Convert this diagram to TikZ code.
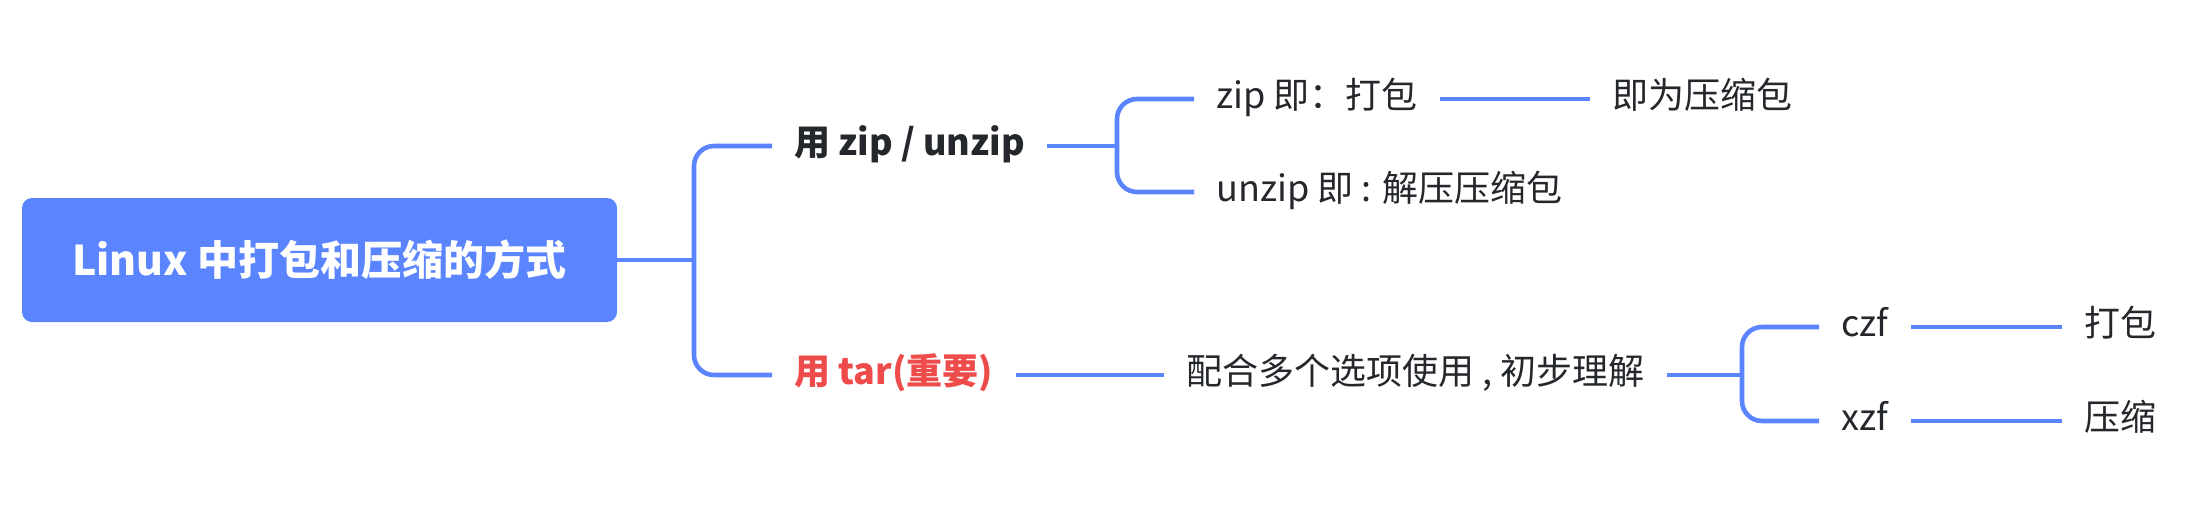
\documentclass[tikz,border=0pt]{standalone}
\usepackage{fontspec}
\newfontfamily\cjk{Noto Sans CJK SC}
\usepackage{xcolor}
\usetikzlibrary{positioning}
\definecolor{mapblue}{HTML}{5B84FF}
\definecolor{mapred}{HTML}{EE4B4B}
\definecolor{mapink}{HTML}{24272B}

\begin{document}
\begin{tikzpicture}[x=0.5pt, y=-0.5pt,
    link/.style={mapblue, line width=2.3pt, rounded corners=10pt},
    topic/.style={anchor=west, inner xsep=11pt, inner ysep=0pt, text height=0.95em, text depth=0.05em,
        text=mapink, font=\cjk\fontsize{18pt}{20pt}\selectfont},
    branch/.style={topic, font=\cjk\bfseries\fontsize{18pt}{20pt}\selectfont},
    rootbox/.style={fill=mapblue, rounded corners=5pt, minimum width=297.5pt, minimum height=62pt,
        text=white, font=\cjk\bfseries\fontsize{20.5pt}{22pt}\selectfont}]
    \useasboundingbox (0,0) rectangle (2202,504);
    \node[rootbox] (root) at (319.5,260) {Linux 中打包和压缩的方式};
    % first level
    \node[branch] (zip) at (772,146) {用 zip / unzip};
    \node[branch, text=mapred] (tar) at (772,375) {用 tar(重要)};
    \coordinate (fork1) at (694,260);
    \draw[link] (root.east) -- (fork1);
    \draw[link] (fork1) |- (zip.west);
    \draw[link] (fork1) |- (tar.west);
    % zip / unzip
    \node[topic] (zipa) at (1194,99) {zip 即：打包};
    \node[topic] (zipb) at (1194,192) {unzip 即 : 解压压缩包};
    \node[topic] (zipc) at (1590,99) {即为压缩包};
    \coordinate (fork2) at (1117,146);
    \draw[link] (zip.east) -- (fork2);
    \draw[link] (fork2) |- (zipa.west);
    \draw[link] (fork2) |- (zipb.west);
    \draw[link] (zipa.east) -- (zipc.west);
    % tar
    \node[topic] (tara) at (1164,375) {配合多个选项使用 , 初步理解};
    \node[topic] (czf) at (1819,327) {czf};
    \node[topic] (xzf) at (1819,421) {xzf};
    \node[topic] (pack) at (2062,327) {打包};
    \node[topic] (comp) at (2062,421) {压缩};
    \coordinate (fork3) at (1742,375);
    \draw[link] (tar.east) -- (tara.west);
    \draw[link] (tara.east) -- (fork3);
    \draw[link] (fork3) |- (czf.west);
    \draw[link] (fork3) |- (xzf.west);
    \draw[link] (czf.east) -- (pack.west);
    \draw[link] (xzf.east) -- (comp.west);
\end{tikzpicture}
\end{document}
